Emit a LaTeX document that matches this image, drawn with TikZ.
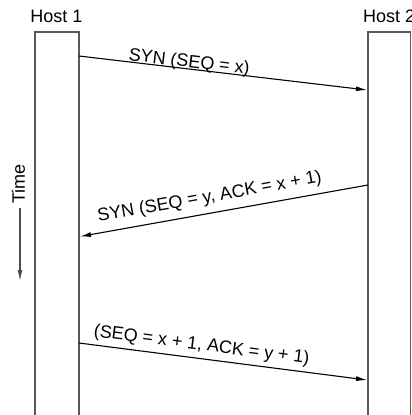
\documentclass[tikz,border=0pt]{standalone}
\usepackage{fontspec}
\setmainfont{Liberation Sans}
\usetikzlibrary{arrows.meta}
\begin{document}
\begin{tikzpicture}[x=1pt,y=-1pt,
  lbl/.style={font=\fontsize{18}{21}\selectfont, inner sep=0pt},
  hostbox/.style={draw=black!65, line width=1.5pt},
  msg/.style={draw=black, line width=1.1pt, -{Latex[length=11pt,width=5pt]}},
  timearrow/.style={draw=black!70, line width=1.1pt, -{Latex[length=11pt,width=5pt]}}]
\clip (0,0) rectangle (412,415);
\fill[white] (0,0) rectangle (412,415);
% host labels
\node[lbl, anchor=base] (h1) at (56.5,23) {Host 1};
\node[lbl, anchor=base west] (h2) at (363,23) {Host 2};
% host boxes (open at bottom)
\draw[hostbox] (35,420) -- (35,32) -- (79,32) -- (79,420);
\draw[hostbox] (368,420) -- (368,32) -- (410.7,32) -- (410.7,420);
% message end points on box edges
\coordinate (m1s) at (79,56);
\coordinate (m1e) at (367,90);
\coordinate (m2s) at (368,185);
\coordinate (m2e) at (80,236.5);
\coordinate (m3s) at (79,343);
\coordinate (m3e) at (367,380);
\draw[msg] (m1s) -- node[lbl, sloped, anchor=base, pos=0.38, yshift=1.5pt] (l1) {SYN (SEQ = x)} (m1e);
\draw[msg] (m2s) -- node[lbl, sloped, anchor=base, pos=0.54, yshift=11pt] (l2) {SYN (SEQ = y, ACK = x + 1)} (m2e);
\draw[msg] (m3s) -- node[lbl, sloped, anchor=base, pos=0.42, yshift=8.5pt] (l3) {(SEQ = x + 1, ACK = y + 1)} (m3e);
% time axis
\node[lbl, rotate=90] (time) at (18.5,184) {Time};
\coordinate (tend) at (20,281);
\draw[timearrow] (time.west -| tend) ++(0,4) -- (tend);
\end{tikzpicture}
\end{document}
